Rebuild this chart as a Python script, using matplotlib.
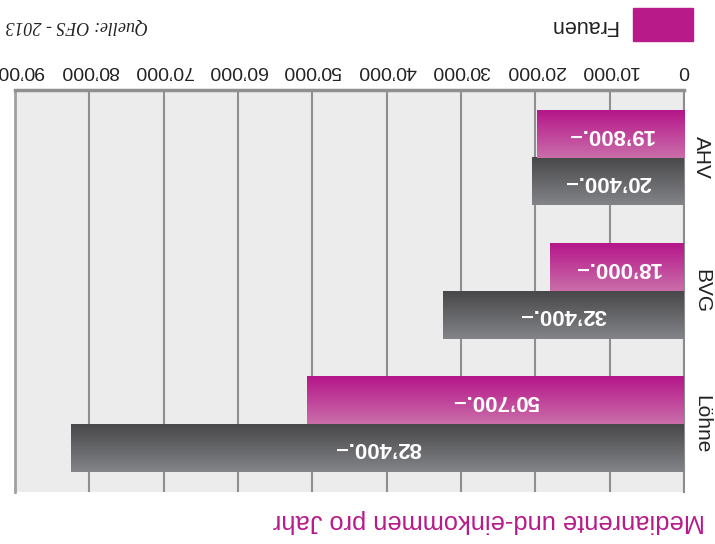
import matplotlib
matplotlib.use("Agg")
import matplotlib.pyplot as plt
import numpy as np
from matplotlib.ticker import FuncFormatter, MultipleLocator
from matplotlib.patches import Rectangle

# data (picture is shown upside down, so all text is turned by 180 degrees)
categories = ["Löhne", "BVG", "AHV"]
maenner = [82400, 32400, 20400]
frauen = [50700, 18000, 19800]
legend_label = "Frauen"
title = "Medianrente und-einkommen pro Jahr"
source = "Quelle: OFS - 2013"

plt.rcParams['font.family'] = ['Liberation Sans', 'DejaVu Sans']

MAGENTA = '#b81a8a'


def fmt(v):
    return f"{int(round(v)):,}".replace(",", "\u2019")


def gradient(top, bottom, n=64):
    top = np.array(matplotlib.colors.to_rgb(top))
    bottom = np.array(matplotlib.colors.to_rgb(bottom))
    t = np.linspace(0, 1, n)[:, None, None]
    return bottom * (1 - t) + top * t  # row 0 = bottom (origin lower)


fig = plt.figure(figsize=(7.15, 5.44), dpi=100)
ax = fig.add_axes([15/715, 52/544, 669/715, 402/544])
ax.set_facecolor('#ececec')

pos = np.arange(len(categories))
h = 0.357

bars_m = ax.barh(pos - h/2, maenner, height=h, color='#5e5e61', zorder=2)
bars_f = ax.barh(pos + h/2, frauen, height=h, color=MAGENTA, zorder=2)

grad_m = gradient('#48484a', '#838488')
grad_f = gradient('#b5168a', '#ca6ea9')

for bars, grad in ((bars_m, grad_m), (bars_f, grad_f)):
    for b in bars:
        x0, y0, w, hh = b.get_x(), b.get_y(), b.get_width(), b.get_height()
        ax.imshow(grad, extent=[x0, x0 + w, y0, y0 + hh], origin='lower',
                  aspect='auto', zorder=3, interpolation='bilinear')
        ax.text(x0 + w / 2, y0 + hh / 2, fmt(w) + ".\u2013", rotation=180,
                ha='center', va='center', color='white', fontsize=16,
                fontweight='bold', zorder=4)

ax.set_xlim(90000, 0)
ax.set_ylim(-0.51, 2.51)
ax.xaxis.set_major_locator(MultipleLocator(10000))
ax.xaxis.set_major_formatter(FuncFormatter(lambda v, p: fmt(v)))
ax.xaxis.tick_top()
ax.grid(axis='x', color='#8f8f91', lw=1.5)
ax.set_axisbelow(True)

ax.set_yticks(pos, categories)
ax.yaxis.tick_right()
ax.tick_params(axis='x', length=0, pad=8, labelsize=14, labelrotation=180,
               labelcolor='#222222')
ax.tick_params(axis='y', length=0, pad=6, labelsize=15, labelrotation=270,
               labelcolor='#222222')
for lbl in ax.get_yticklabels():
    lbl.set_va('center')

ax.spines['bottom'].set_visible(False)
ax.spines['top'].set_color('#909092')
ax.spines['top'].set_linewidth(2.5)
ax.spines['right'].set_color('#8c8c8e')
ax.spines['right'].set_linewidth(1.5)
ax.spines['left'].set_color('#a0a0a2')
ax.spines['left'].set_linewidth(2)

# legend (manual, upside down)
fig.add_artist(Rectangle((633/715, 1 - 41/544), 60/715, 33/544,
                         transform=fig.transFigure, color=MAGENTA))
fig.text(617/715, 1 - 25/544, legend_label, rotation=180, ha='right',
         va='center', fontsize=15.5, color='#222222')

fig.text(5/715, 1 - 26/544, source, rotation=180, ha='left', va='center',
         fontsize=13, family='Liberation Serif', style='italic', color='#222222')

fig.text(705/715, 1 - 521/544, title, rotation=180, ha='right', va='center',
         fontsize=18.3, color=MAGENTA)

fig.savefig('out.png', dpi=100)
